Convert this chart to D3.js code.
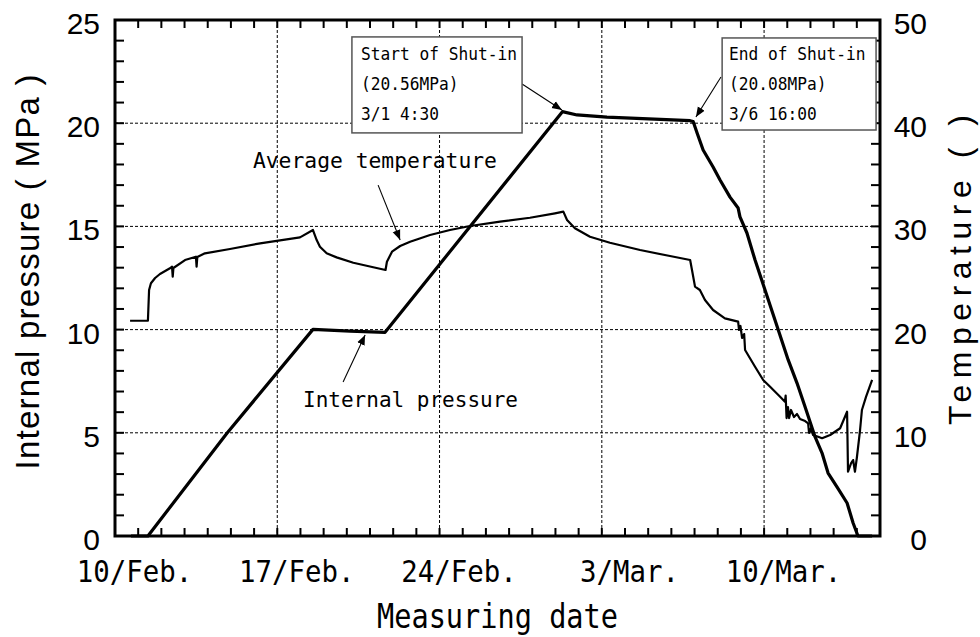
<!DOCTYPE html>
<html>
<head>
<meta charset="utf-8">
<script src="https://cdn.jsdelivr.net/npm/d3@7"></script>
<style>
  body { margin: 0; background: #fff; }
  svg { display: block; }
</style>
</head>
<body>
<svg id="chart" width="980" height="637"></svg>
<script>
// days counted from 10 Feb
const pressureDay = [0.69, 1.42, 4.82, 8.54, 10.14, 11.65, 19.3, 19.93, 21.22, 24.81, 24.94,
  25.11, 25.37, 25.8, 26.1, 26.53, 26.88, 26.96, 27.26, 27.61, 28.04, 28.47, 29.04, 29.42,
  29.77, 30.2, 30.5, 30.76, 31.15, 31.58, 31.84, 32.05, 32.66];
const pressureMPa = [0, 0, 4.97, 10.01, 9.93, 9.87, 20.56, 20.4, 20.29, 20.12, 20.08,
  19.53, 18.7, 17.88, 17.25, 16.42, 15.89, 15.46, 14.68, 13.37, 11.92, 10.47, 8.53, 7.41,
  6.25, 4.8, 4.02, 3.05, 2.37, 1.6, 0.63, 0, 0];

const tempDay = [0.65, 1.42, 1.47, 1.55, 1.73, 1.94, 2.37, 2.46, 2.49, 2.52, 3.02, 3.49, 3.52,
  3.55, 3.88, 4.96, 6.26, 7.98, 8.54, 8.7, 8.84, 9.13, 9.56, 10.28, 11.14, 11.67, 11.73, 11.95,
  12.3, 12.73, 13.59, 14.45, 15.32, 16.61, 17.9, 18.98, 19.34, 19.5, 19.84, 20.49, 21.35, 22.65,
  23.94, 24.81, 24.89, 25.02, 25.23, 25.45, 25.8, 26.31, 26.88, 26.92, 26.98, 27.05, 27.14,
  27.18, 27.61, 27.96, 28.26, 28.69, 28.9, 28.93, 28.97, 29.03, 29.08, 29.16, 29.29, 29.42,
  29.55, 29.77, 29.9, 29.94, 30.03, 30.11, 30.33, 30.5, 30.85, 31.28, 31.58, 31.62, 31.75,
  31.84, 31.92, 32.0, 32.14, 32.22, 32.4, 32.66];
const tempC = [20.86, 20.86, 23.84, 24.49, 25.0, 25.39, 25.94, 26.09, 25.13, 25.97, 26.74, 27.06, 26.09,
  27.03, 27.39, 27.81, 28.36, 28.94, 29.65, 28.68, 28.03, 27.39, 27.0, 26.48, 26.04, 25.78, 26.58, 27.55,
  28.1, 28.52, 29.17, 29.65, 30.04, 30.46, 30.84, 31.27, 31.43, 30.62, 29.82, 29.0, 28.42, 27.71,
  27.13, 26.74, 25.78, 24.16, 23.84, 22.87, 21.9, 21.09, 20.77, 19.96, 20.35, 19.19, 19.57,
  18.02, 16.4, 15.12, 14.47, 13.5, 13.01, 13.6, 11.43, 12.5, 11.43, 12.21, 11.53, 11.82,
  11.34, 11.14, 10.92, 9.98, 10.47, 9.79, 9.62, 9.47, 9.79, 10.44, 12.04, 6.23, 7.04,
  7.36, 6.23, 7.56, 10.27, 12.21, 13.5, 15.12];

const dateTicks = [0, 7, 14, 21, 28];
const dateLabels = ['10/Feb.', '17/Feb.', '24/Feb.', '3/Mar.', '10/Mar.'];
const gridMPa = [5, 10, 15, 20];

const mono = "'DejaVu Sans Mono', 'Liberation Mono', monospace";
const sans = "'Liberation Sans', Arial, sans-serif";

const svg = d3.select('#chart');
const margin = { left: 115, right: 100, top: 20, bottom: 101 };
const W = 980, H = 637;

const x = d3.scaleLinear().domain([0, 33]).range([margin.left, W - margin.right]);
const yP = d3.scaleLinear().domain([0, 25]).range([H - margin.bottom, margin.top]);
const yT = d3.scaleLinear().domain([0, 50]).range([H - margin.bottom, margin.top]);

// grid
svg.append('g').selectAll('line').data(dateTicks.slice(1)).join('line')
  .attr('x1', d => x(d)).attr('x2', d => x(d))
  .attr('y1', yP(25)).attr('y2', yP(0))
  .attr('stroke', '#000').attr('stroke-width', 1).attr('stroke-dasharray', '3,2');
svg.append('g').selectAll('line').data(gridMPa).join('line')
  .attr('x1', x(0)).attr('x2', x(33))
  .attr('y1', d => yP(d)).attr('y2', d => yP(d))
  .attr('stroke', '#000').attr('stroke-width', 1).attr('stroke-dasharray', '3,2');

// tick labels
const axLeft = svg.append('g').attr('transform', `translate(${x(0)},0)`)
  .call(d3.axisLeft(yP).tickValues(d3.range(0, 26, 5)).tickSize(0).tickPadding(15));
const axRight = svg.append('g').attr('transform', `translate(${x(33)},0)`)
  .call(d3.axisRight(yT).tickValues(d3.range(0, 51, 10)).tickSize(0));
[axLeft, axRight].forEach(g => g.select('.domain').remove());
axLeft.selectAll('text').attr('font-family', sans).attr('font-size', 30).attr('fill', '#000').attr('dy', '0.45em');
axRight.selectAll('text').attr('font-family', sans).attr('font-size', 30).attr('fill', '#000')
  .attr('dy', '0.45em').attr('x', 47).attr('text-anchor', 'end');

// date labels: slash sits on the tick
const cw = 16.5;
svg.append('g').selectAll('text').data(dateTicks).join('text')
  .attr('x', (d, i) => x(d) - (dateLabels[i].indexOf('/') + 0.5) * cw + 3)
  .attr('y', yP(0) + 46)
  .attr('font-family', mono).attr('font-size', 30)
  .attr('textLength', (d, i) => dateLabels[i].length * cw).attr('lengthAdjust', 'spacingAndGlyphs')
  .text((d, i) => dateLabels[i]);

// series
const pressure = pressureDay.map((d, i) => ({ day: d, v: pressureMPa[i] }));
const temperature = tempDay.map((d, i) => ({ day: d, v: tempC[i] }));

svg.append('path').datum(temperature)
  .attr('d', d3.line().x(d => x(d.day)).y(d => yT(d.v)))
  .attr('fill', 'none').attr('stroke', '#000').attr('stroke-width', 2.2).attr('stroke-linejoin', 'round');
svg.append('path').datum(pressure)
  .attr('d', d3.line().x(d => x(d.day)).y(d => yP(d.v)))
  .attr('fill', 'none').attr('stroke', '#000').attr('stroke-width', 3.2).attr('stroke-linejoin', 'round');

// frame
svg.append('rect')
  .attr('x', x(0)).attr('y', yP(25))
  .attr('width', x(33) - x(0)).attr('height', yP(0) - yP(25))
  .attr('fill', 'none').attr('stroke', '#000').attr('stroke-width', 3);

// minor ticks, all pointing inward
const tickG = svg.append('g').attr('stroke', '#000').attr('stroke-width', 2);
const dayTicks = d3.range(1, 33);
tickG.selectAll('line.b').data(dayTicks).join('line').attr('class', 'b')
  .attr('x1', d => x(d)).attr('x2', d => x(d)).attr('y1', yP(0)).attr('y2', yP(0) - 8);
tickG.selectAll('line.t').data(dayTicks).join('line').attr('class', 't')
  .attr('x1', d => x(d)).attr('x2', d => x(d)).attr('y1', yP(25)).attr('y2', yP(25) + 8);
tickG.selectAll('line.l').data(d3.range(1, 25)).join('line').attr('class', 'l')
  .attr('x1', x(0)).attr('x2', x(0) + 9).attr('y1', d => yP(d)).attr('y2', d => yP(d));
tickG.selectAll('line.r').data(d3.range(2, 50, 2)).join('line').attr('class', 'r')
  .attr('x1', x(33)).attr('x2', x(33) - 9).attr('y1', d => yT(d)).attr('y2', d => yT(d));

// axis titles
svg.append('text')
  .attr('transform', `translate(39,${(yP(25) + yP(0)) / 2 - 6}) rotate(-90)`)
  .attr('text-anchor', 'middle').attr('font-family', sans).attr('font-size', 33)
  .attr('textLength', 395).attr('lengthAdjust', 'spacing')
  .text('Internal pressure ( MPa )');
svg.append('text')
  .attr('transform', `translate(971,${(yP(25) + yP(0)) / 2 - 8}) rotate(-90)`)
  .attr('text-anchor', 'middle').attr('font-family', sans).attr('font-size', 32)
  .attr('textLength', 310).attr('lengthAdjust', 'spacing')
  .text('Temperature (   )');
svg.append('text')
  .attr('x', (x(0) + x(33)) / 2).attr('y', 628)
  .attr('text-anchor', 'middle').attr('font-family', mono).attr('font-size', 34)
  .attr('textLength', 241).attr('lengthAdjust', 'spacingAndGlyphs')
  .text('Measuring date');

// annotations (positions in data units)
svg.append('defs').append('marker')
  .attr('id', 'arr').attr('viewBox', '0 0 10 10').attr('refX', 10).attr('refY', 5)
  .attr('markerWidth', 10).attr('markerHeight', 10).attr('markerUnits', 'userSpaceOnUse')
  .attr('orient', 'auto')
  .append('path').attr('d', 'M0,1 L10,5 L0,9 Z').attr('fill', '#000');

const arrows = [
  [11.35, 17.0, 12.3, 14.34],
  [9.84, 7.46, 10.79, 9.74],
  [17.56, 21.9, 19.28, 20.64],
  [26.14, 22.24, 25.06, 20.3]
];
svg.append('g').selectAll('line').data(arrows).join('line')
  .attr('x1', d => x(d[0])).attr('y1', d => yP(d[1]))
  .attr('x2', d => x(d[2])).attr('y2', d => yP(d[3]))
  .attr('stroke', '#000').attr('stroke-width', 1.1).attr('marker-end', 'url(#arr)');

const labels = [
  { day: 5.95, mpa: 17.83, text: 'Average temperature', w: 244 },
  { day: 8.11, mpa: 6.25, text: 'Internal pressure', w: 215 }
];
svg.append('g').selectAll('text').data(labels).join('text')
  .attr('x', d => x(d.day)).attr('y', d => yP(d.mpa))
  .attr('font-family', mono).attr('font-size', 21)
  .attr('textLength', d => d.w).attr('lengthAdjust', 'spacingAndGlyphs')
  .text(d => d.text);

const boxes = [
  { d0: 10.22, d1: 17.56, p0: 19.53, p1: 24.18, tx: 10.61,
    lines: ['Start of Shut-in', '(20.56MPa)', '3/1 4:30'] },
  { d0: 26.19, d1: 32.83, p0: 19.67, p1: 24.13, tx: 26.49,
    lines: ['End of Shut-in', '(20.08MPa)', '3/6 16:00'] }
];
const lineMPa = [23.06, 21.61, 20.16];
boxes.forEach(b => {
  svg.append('rect')
    .attr('x', x(b.d0)).attr('y', yP(b.p1))
    .attr('width', x(b.d1) - x(b.d0)).attr('height', yP(b.p0) - yP(b.p1))
    .attr('fill', '#fff').attr('stroke', '#555').attr('stroke-width', 1.5);
  b.lines.forEach((t, i) => {
    svg.append('text')
      .attr('x', x(b.tx)).attr('y', yP(lineMPa[i]))
      .attr('font-family', mono).attr('font-size', 18)
      .attr('textLength', t.length * 9.75).attr('lengthAdjust', 'spacingAndGlyphs')
      .text(t);
  });
});
</script>
</body>
</html>
